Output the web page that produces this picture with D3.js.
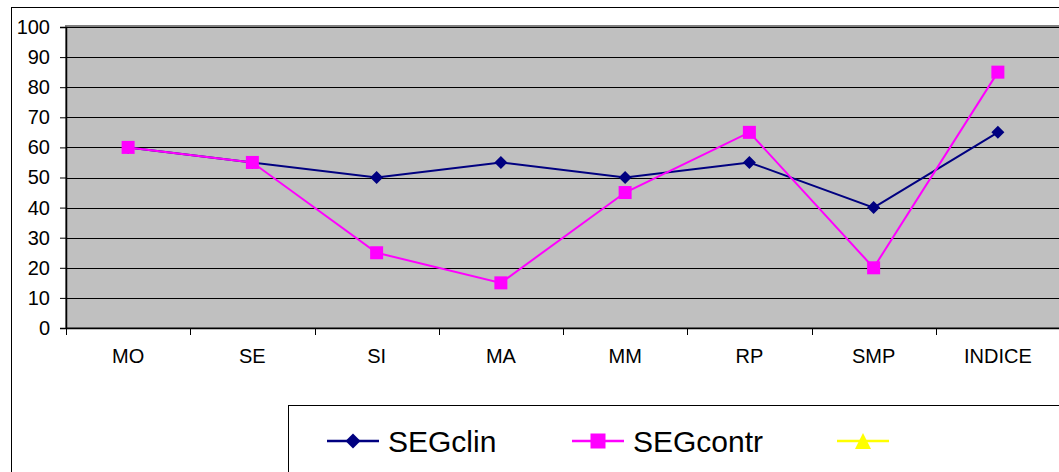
<!DOCTYPE html>
<html>
<head>
<meta charset="utf-8">
<script src="https://cdn.jsdelivr.net/npm/d3@7"></script>
<style>
  html, body { margin: 0; padding: 0; background: #fff; }
  svg { display: block; font-family: Arial, "Liberation Sans", sans-serif; }
</style>
</head>
<body>
<svg id="chart" width="1059" height="472"></svg>
<script>
const categories = ["MO", "SE", "SI", "MA", "MM", "RP", "SMP", "INDICE"];
const segClin = [60, 55, 50, 55, 50, 55, 40, 65];
const segContr = [60, 55, 25, 15, 45, 65, 20, 85];
const yTicks = [0, 10, 20, 30, 40, 50, 60, 70, 80, 90, 100];
const legendLabels = ["SEGclin", "SEGcontr", ""];

const svg = d3.select("#chart");
const W = 1059, H = 472;

// outer chart frame
svg.append("rect").attr("x", 11.5).attr("y", 7.5).attr("width", W + 10).attr("height", H + 10)
  .attr("fill", "#fff").attr("stroke", "#000").attr("stroke-width", 1);

const plot = { left: 66, top: 27, right: 1060, bottom: 328 };

const x = d3.scaleBand().domain(categories).range([plot.left, plot.right]);
const y = d3.scaleLinear().domain([0, 100]).range([plot.bottom, plot.top]);

// plot background
svg.append("rect").attr("x", plot.left).attr("y", plot.top - 1)
  .attr("width", plot.right - plot.left + 5).attr("height", plot.bottom - plot.top + 1)
  .attr("fill", "#c0c0c0").attr("stroke", "#808080").attr("stroke-width", 2);

// horizontal gridlines
svg.append("g").selectAll("line").data(yTicks.filter(d => d > 0)).join("line")
  .attr("x1", plot.left).attr("x2", plot.right + 5)
  .attr("y1", d => Math.round(y(d)) + 0.5).attr("y2", d => Math.round(y(d)) + 0.5)
  .attr("stroke", "#000").attr("stroke-width", 1);

// y axis
const yAxis = d3.axisLeft(y).tickValues(yTicks).tickSize(6).tickPadding(10);
const gy = svg.append("g").attr("transform", `translate(${plot.left},0)`).call(yAxis);
gy.select(".domain").attr("stroke", "#000").attr("stroke-width", 1.5);
gy.selectAll("text").attr("font-size", 20).attr("fill", "#000")
  .attr("font-family", "Arial, 'Liberation Sans', sans-serif");
gy.selectAll(".tick line").attr("stroke", "#000");

// x axis
const xAxis = d3.axisBottom(x).tickSize(0).tickPadding(21);
const gx = svg.append("g").attr("transform", `translate(0,${plot.bottom})`).call(xAxis);
gx.select(".domain").remove();
gx.selectAll("text").attr("font-size", 20).attr("fill", "#000")
  .attr("font-family", "Arial, 'Liberation Sans', sans-serif");
svg.append("line").attr("x1", plot.left).attr("x2", plot.right + 5)
  .attr("y1", plot.bottom + 0.5).attr("y2", plot.bottom + 0.5)
  .attr("stroke", "#000").attr("stroke-width", 1.5);
// category boundary ticks
svg.append("g").selectAll("line").data(categories).join("line")
  .attr("x1", d => Math.round(x(d)) + 0.5).attr("x2", d => Math.round(x(d)) + 0.5)
  .attr("y1", plot.bottom).attr("y2", plot.bottom + 7)
  .attr("stroke", "#000").attr("stroke-width", 1);

const cx = d => x(d) + x.bandwidth() / 2;
const line = d3.line().x((d, i) => cx(categories[i])).y(d => y(d));

const navy = "#000080", magenta = "#ff00ff", yellow = "#ffff00";

// SEGclin series
svg.append("path").datum(segClin).attr("d", line)
  .attr("fill", "none").attr("stroke", navy).attr("stroke-width", 2);
// SEGcontr series
svg.append("path").datum(segContr).attr("d", line)
  .attr("fill", "none").attr("stroke", magenta).attr("stroke-width", 2);

const diamond = (px, py, r) => `M${px},${py - r}L${px + r},${py}L${px},${py + r}L${px - r},${py}Z`;

svg.append("g").selectAll("path").data(segClin).join("path")
  .attr("d", (d, i) => diamond(cx(categories[i]), y(d), 6.5))
  .attr("fill", navy);
svg.append("g").selectAll("rect").data(segContr).join("rect")
  .attr("x", (d, i) => cx(categories[i]) - 6.5).attr("y", d => y(d) - 6.5)
  .attr("width", 13).attr("height", 13).attr("fill", magenta);

// legend
const lg = svg.append("g");
lg.append("rect").attr("x", 288.5).attr("y", 405.5).attr("width", 800).attr("height", 100)
  .attr("fill", "#fff").attr("stroke", "#000").attr("stroke-width", 1);

const legendItems = [
  { label: legendLabels[0], color: navy, x0: 327, marker: "diamond" },
  { label: legendLabels[1], color: magenta, x0: 572, marker: "square" },
  { label: legendLabels[2], color: yellow, x0: 837, marker: "triangle" }
];
const ly = 441;
legendItems.forEach(it => {
  lg.append("line").attr("x1", it.x0).attr("x2", it.x0 + 52).attr("y1", ly).attr("y2", ly)
    .attr("stroke", it.color).attr("stroke-width", 2.5);
  const mx = it.x0 + 26;
  if (it.marker === "diamond") {
    lg.append("path").attr("d", diamond(mx, ly, 7.5)).attr("fill", it.color);
  } else if (it.marker === "square") {
    lg.append("rect").attr("x", mx - 7.5).attr("y", ly - 7.5).attr("width", 15).attr("height", 15).attr("fill", it.color);
  } else {
    lg.append("path").attr("d", `M${mx},${ly - 8}L${mx + 8},${ly + 8}L${mx - 8},${ly + 8}Z`).attr("fill", it.color);
  }
  if (it.label) {
    lg.append("text").attr("x", it.x0 + 61).attr("y", ly + 11)
      .attr("font-size", 30).attr("fill", "#000")
      .text(it.label);
  }
});
</script>
</body>
</html>
